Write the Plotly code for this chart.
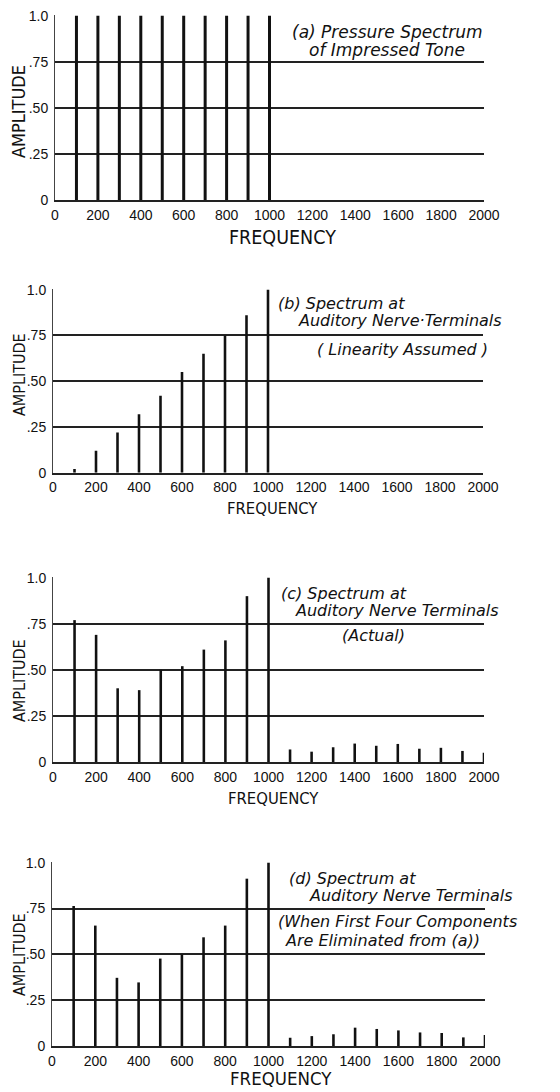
import plotly.graph_objects as go

W, H = 560, 1092

freq = [100 * i for i in range(1, 21)]
amp_a = [1.0] * 10 + [0] * 10
amp_b = [0.02, 0.12, 0.22, 0.32, 0.42, 0.55, 0.65, 0.75, 0.86, 1.0] + [0] * 10
amp_c = [0.77, 0.69, 0.40, 0.39, 0.50, 0.52, 0.61, 0.66, 0.90, 1.0,
         0.068, 0.056, 0.08, 0.10, 0.088, 0.098, 0.072, 0.077, 0.06, 0.05]
amp_d = [0.764, 0.657, 0.372, 0.347, 0.477, 0.499, 0.593, 0.657, 0.913, 1.0,
         0.045, 0.054, 0.064, 0.10, 0.093, 0.085, 0.074, 0.071, 0.047, 0.06]

x_ticks = list(range(0, 2001, 200))
x_ticklabels = [str(v) for v in x_ticks]
y_ticks = [0, 0.25, 0.5, 0.75, 1.0]
y_ticklabels = ["0", ".25", ".50", ".75", "1.0"]

notes_a = ["(a) Pressure Spectrum", "of Impressed Tone"]
notes_b = ["(b) Spectrum at", "Auditory Nerve·Terminals", "( Linearity Assumed )"]
notes_c = ["(c) Spectrum at", "Auditory Nerve Terminals", "(Actual)"]
notes_d = ["(d) Spectrum at", "Auditory Nerve Terminals",
           "(When First Four Components", "Are Eliminated from (a))"]

panels = [
    dict(y=amp_a, xpx=(55, 484), ypx=(200, 15), notes=notes_a,
         note_pos=[(290, 32), (307, 50)], note_size=17,
         xt=(282, 237, 19.5), yt=(19, 112, 18), bw=14),
    dict(y=amp_b, xpx=(53, 483), ypx=(472.7, 289), notes=notes_b,
         note_pos=[(276, 303), (296, 320), (315, 350)], note_size=16,
         xt=(272, 508, 16.5), yt=(19, 375, 16), bw=12),
    dict(y=amp_c, xpx=(53, 484), ypx=(762, 577), notes=notes_c,
         note_pos=[(279, 593), (293, 610), (340, 635)], note_size=16,
         xt=(273, 798, 16.5), yt=(19, 681, 16), bw=12),
    dict(y=amp_d, xpx=(52, 485), ypx=(1046, 862), notes=notes_d,
         note_pos=[(287, 878), (307, 895), (276, 921), (283, 940)], note_size=16,
         xt=(281, 1078, 18.5), yt=(19, 955, 16), bw=12),
]

tick_font = dict(family="Liberation Sans Narrow, Liberation Sans, Arial, sans-serif",
                 size=14, color="#111")
title_font = "DejaVu Sans Condensed, DejaVu Sans, sans-serif"
note_font = "DejaVu Sans, sans-serif"

fig = go.Figure()
layout = dict(width=W, height=H, margin=dict(l=0, r=0, t=0, b=0, autoexpand=False),
              paper_bgcolor="white", plot_bgcolor="white", showlegend=False,
              annotations=[])

for i, p in enumerate(panels, start=1):
    sx = "" if i == 1 else str(i)
    fig.add_trace(go.Bar(x=freq, y=p["y"], width=p["bw"], marker_color="#111",
                         marker_line_width=0, xaxis="x" + sx, yaxis="y" + sx))
    x0, x1 = p["xpx"]
    y0, y1 = p["ypx"]
    layout["xaxis" + sx] = dict(
        domain=[x0 / W, x1 / W], range=[0, 2000], anchor="y" + sx,
        tickvals=x_ticks, ticktext=x_ticklabels, showgrid=False, zeroline=False,
        showline=True, linecolor="#222", linewidth=1.5, ticks="",
        tickfont=tick_font, ticklabelstandoff=1, automargin=False, fixedrange=True)
    layout["yaxis" + sx] = dict(
        domain=[1 - y0 / H, 1 - y1 / H], range=[0, 1.004], anchor="x" + sx,
        tickvals=y_ticks, ticktext=y_ticklabels, showgrid=True,
        gridcolor="#222", gridwidth=1.5, zeroline=False, showline=True,
        linecolor="#444", linewidth=1, ticks="", tickfont=tick_font,
        ticklabelstandoff=3, automargin=False, fixedrange=True)
    for txt, (px, py) in zip(p["notes"], p["note_pos"]):
        layout["annotations"].append(dict(
            text="<i>" + txt + "</i>", xref="paper", yref="paper",
            x=px / W, y=1 - py / H, xanchor="left", yanchor="middle",
            showarrow=False, font=dict(family=note_font, size=p["note_size"], color="#111")))
    tx, ty, ts = p["xt"]
    layout["annotations"].append(dict(
        text="FREQUENCY", xref="paper", yref="paper", x=tx / W, y=1 - ty / H,
        xanchor="center", yanchor="middle", showarrow=False,
        font=dict(family=title_font, size=ts, color="#111")))
    ax, ay, asz = p["yt"]
    layout["annotations"].append(dict(
        text="AMPLITUDE", xref="paper", yref="paper", x=ax / W, y=1 - ay / H,
        xanchor="center", yanchor="middle", showarrow=False, textangle=-90,
        font=dict(family=title_font, size=asz, color="#111")))

fig.update_layout(**layout)
fig.write_html("out.html", config={"displayModeBar": False},
               post_script="document.body.style.margin='0';")
